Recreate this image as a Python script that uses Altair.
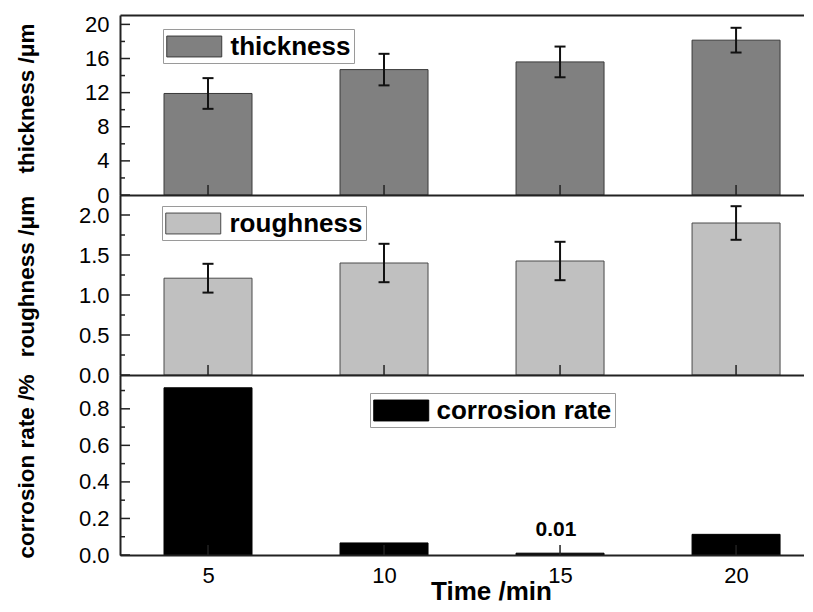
import altair as alt
import pandas as pd

# ---------------- data ----------------
times = [5, 10, 15, 20]
thickness = [11.9, 14.7, 15.6, 18.15]
thickness_err = [1.8, 1.85, 1.8, 1.45]
roughness = [1.21, 1.40, 1.425, 1.90]
roughness_err = [0.18, 0.24, 0.24, 0.21]
corrosion = [0.915, 0.066, 0.01, 0.113]
corrosion_labels = ["", "", "0.01", ""]

thk_major = [0, 4, 8, 12, 16, 20]
thk_minor = [2, 6, 10, 14, 18]
rgh_major = [0, 0.5, 1.0, 1.5, 2.0]
rgh_minor = [0.25, 0.75, 1.25, 1.75]
cor_major = [0, 0.2, 0.4, 0.6, 0.8]
cor_minor = [0.1, 0.3, 0.5, 0.7, 0.9]

FONT = "Liberation Sans"
W, H = 684, 180
XDOM = [2.5, 21.93]
BAR_W = 2.5
LINE = "#222222"


def make_df(vals, errs, series, labels=None):
    d = pd.DataFrame({"time": times, "val": vals})
    d["lo_x"] = d["time"] - BAR_W / 2
    d["hi_x"] = d["time"] + BAR_W / 2
    if errs is not None:
        d["err_lo"] = [v - e for v, e in zip(vals, errs)]
        d["err_hi"] = [v + e for v, e in zip(vals, errs)]
    d["series"] = series
    d["label"] = labels if labels is not None else ["" for _ in times]
    return d


def panel(df, ydomain, majors, minors, fmt, ytitle, title_y, series, fill,
          stroke, lx, ly, label_offset, bottom=False, top=False,
          has_err=True, text=False):
    xs = alt.Scale(domain=XDOM, nice=False, zero=False)
    ys = alt.Scale(domain=ydomain, nice=False, zero=False)
    base = alt.Chart(df)

    xkw = dict(orient="bottom", domain=True, domainColor=LINE, domainWidth=2,
               ticks=False, grid=False, values=times, zindex=2)
    if bottom:
        xkw.update(labels=True, labelFont=FONT, labelFontSize=22,
                   labelColor="black", labelPadding=10, title="Time /min",
                   titleFont=FONT, titleFontSize=26, titleFontWeight="bold",
                   titleColor="black", titleX=371, titleY=44,
                   titleBaseline="alphabetic", titleAlign="center")
    else:
        xkw.update(labels=False, title=None)

    ykw = dict(orient="left", domain=True, domainColor=LINE, domainWidth=2,
               ticks=False, grid=False, values=majors, format=fmt,
               labelFont=FONT, labelFontSize=22, labelColor="black",
               labelPadding=11, labelOverlap=False, labelBound=False,
               title=ytitle, titleFont=FONT, titleFontSize=22.5,
               titleFontWeight="bold", titleColor="black", titleX=-87,
               titleY=title_y, titleBaseline="alphabetic",
               titleAlign="center", titleAngle=270, zindex=2)

    # symbol: 55 x 21 px rectangle, drawn from the symbol's left edge
    leg = alt.Legend(orient="none", legendX=lx, legendY=ly, title=None,
                     symbolType="M-1,-0.76H3V0.76H-1Z", symbolSize=756,
                     symbolStrokeColor=stroke, symbolStrokeWidth=1,
                     symbolOpacity=1,
                     labelFont=FONT, labelFontSize=26, labelFontWeight="bold",
                     labelColor="black", labelOffset=label_offset,
                     labelLimit=400, padding=3, strokeColor="#9a9a9a")

    bars = base.mark_bar(stroke=stroke, strokeWidth=1, opacity=1).encode(
        x=alt.X("lo_x:Q", scale=xs, axis=alt.Axis(**xkw)),
        x2="hi_x:Q",
        y=alt.Y("val:Q", scale=ys, axis=alt.Axis(**ykw)),
        y2=alt.datum(0),
        color=alt.Color("series:N",
                        scale=alt.Scale(domain=[series], range=[fill]),
                        legend=leg),
    )
    layers = [bars]

    if has_err:
        rule = base.mark_rule(color="#111111", strokeWidth=2).encode(
            x=alt.X("time:Q", scale=xs, axis=None),
            y=alt.Y("err_lo:Q", scale=ys, axis=None),
            y2="err_hi:Q",
        )
        cap_lo = base.mark_tick(orient="horizontal", size=11, thickness=2,
                                color="#111111", opacity=1).encode(
            x=alt.X("time:Q", scale=xs, axis=None),
            y=alt.Y("err_lo:Q", scale=ys, axis=None),
        )
        cap_hi = base.mark_tick(orient="horizontal", size=11, thickness=2,
                                color="#111111", opacity=1).encode(
            x=alt.X("time:Q", scale=xs, axis=None),
            y=alt.Y("err_hi:Q", scale=ys, axis=None),
        )
        layers += [rule, cap_lo, cap_hi]

    if text:
        lab = base.mark_text(font=FONT, fontSize=21, fontWeight="bold",
                             baseline="alphabetic", dy=-17, dx=-4,
                             color="black").encode(
            x=alt.X("time:Q", scale=xs, axis=None),
            y=alt.Y("val:Q", scale=ys, axis=None),
            text="label:N",
        )
        layers.append(lab)

    # inward x ticks at each time (and the top frame line for the top panel)
    if top:
        top_axis = alt.Axis(orient="top", domain=True, domainColor=LINE,
                            domainWidth=2, ticks=False, labels=False,
                            grid=False, title=None, zindex=2)
    else:
        top_axis = None
    xt = base.mark_rule(color=LINE, strokeWidth=1.5).encode(
        x=alt.X("time:Q", scale=xs, axis=top_axis),
        y=alt.value(H),
        y2=alt.value(H - 10),
    )
    layers.append(xt)

    # inward y ticks, major and minor
    ymaj = alt.Chart(pd.DataFrame({"v": majors})).mark_rule(
        color=LINE, strokeWidth=1.5).encode(
        y=alt.Y("v:Q", scale=ys, axis=None),
        x=alt.value(0), x2=alt.value(10),
    )
    ymin = alt.Chart(pd.DataFrame({"v": minors})).mark_rule(
        color=LINE, strokeWidth=1.5).encode(
        y=alt.Y("v:Q", scale=ys, axis=None),
        x=alt.value(0), x2=alt.value(5),
    )
    layers += [ymaj, ymin]

    return alt.layer(*layers).resolve_axis(x="independent", y="independent")\
        .properties(width=W, height=H)


df_t = make_df(thickness, thickness_err, "thickness")
df_r = make_df(roughness, roughness_err, "roughness")
df_c = make_df(corrosion, None, "corrosion rate", corrosion_labels)

p1 = panel(df_t, [0, 21.1], thk_major, thk_minor, "d", "thickness /\u03bcm",
           83, "thickness", "#808080", "#3a3a3a", 43, 14, 35.5, top=True)
p2 = panel(df_r, [0, 2.25], rgh_major, rgh_minor, ".1f", "roughness /\u03bcm",
           81, "roughness", "#c0c0c0", "#4a4a4a", 42, 11, 35.5)
p3 = panel(df_c, [0, 0.985], cor_major, cor_minor, ".1f",
           "corrosion rate /%", 91, "corrosion rate", "#000000", "#000000",
           250, 18, 34.5, bottom=True, has_err=False, text=True)

chart = alt.vconcat(p1, p2, p3, spacing=0, bounds="flush").resolve_scale(
    color="independent"
).resolve_legend(color="independent").properties(
    padding={"left": 7, "top": 5, "right": 0, "bottom": 0},
    background="white",
).configure_view(stroke=None)

chart.save("out.html", embed_options={"renderer": "svg", "actions": False})
